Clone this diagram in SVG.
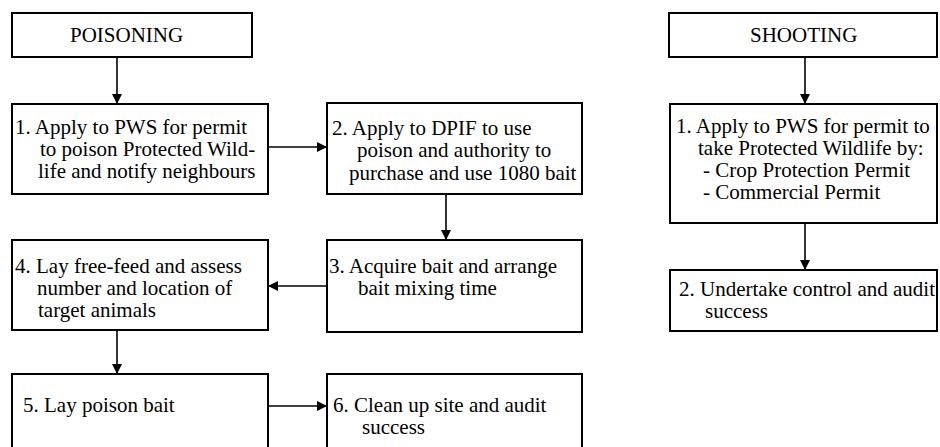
<svg xmlns="http://www.w3.org/2000/svg" width="940" height="447" viewBox="0 0 940 447">
<style>
.box{fill:#fff;stroke:#000;stroke-width:2}
.t{font-family:Liberation Serif, Tinos, Times New Roman, DejaVu Serif, serif;font-size:21px;fill:#000}
.c{fill:none;stroke:#000;stroke-width:1.6;marker-end:url(#ah)}
</style>
<defs>
<marker id="ah" markerUnits="userSpaceOnUse" markerWidth="12" markerHeight="12" viewBox="0 0 12 12" refX="11" refY="6" orient="auto">
<path d="M1,1 L11,6 L1,11 Z" fill="#000"/>
</marker>
</defs>
<rect width="940" height="447" fill="#fff"/>
<g id="connectors">
<line class="c" x1="117" y1="57" x2="117" y2="104"/>
<line class="c" x1="268" y1="147" x2="327" y2="147"/>
<line class="c" x1="446" y1="194" x2="446" y2="240"/>
<line class="c" x1="327" y1="286" x2="268" y2="286"/>
<line class="c" x1="117" y1="330" x2="117" y2="374"/>
<line class="c" x1="268" y1="406" x2="327" y2="406"/>
<line class="c" x1="805" y1="57" x2="805" y2="104"/>
<line class="c" x1="805" y1="223" x2="805" y2="270"/>
</g>
<g id="poisoning">
<rect class="box" x="12" y="13" width="240" height="44"/>
<text class="t" x="70" y="42">POISONING</text>
</g>
<g id="p1">
<rect class="box" x="12" y="104" width="256" height="90"/>
<text class="t" x="15" y="134">1. Apply to PWS for permit</text>
<text class="t" x="40" y="156">to poison Protected Wild-</text>
<text class="t" x="38" y="178">life and notify neighbours</text>
</g>
<g id="p2">
<rect class="box" x="327" y="103" width="255" height="91"/>
<text class="t" x="332" y="135">2. Apply to DPIF to use</text>
<text class="t" x="357" y="157">poison and authority to</text>
<text class="t" x="349" y="180">purchase and use 1080 bait</text>
</g>
<g id="p3">
<rect class="box" x="327" y="240" width="255" height="92"/>
<text class="t" x="329" y="273">3. Acquire bait and arrange</text>
<text class="t" x="358" y="295">bait mixing time</text>
</g>
<g id="p4">
<rect class="box" x="12" y="240" width="256" height="90"/>
<text class="t" x="15" y="273">4. Lay free-feed and assess</text>
<text class="t" x="37" y="295">number and location of</text>
<text class="t" x="38" y="317">target animals</text>
</g>
<g id="p5">
<rect class="box" x="12" y="374" width="256" height="90"/>
<text class="t" x="23" y="412">5. Lay poison bait</text>
</g>
<g id="p6">
<rect class="box" x="327" y="374" width="255" height="90"/>
<text class="t" x="333" y="412">6. Clean up site and audit</text>
<text class="t" x="362" y="434">success</text>
</g>
<g id="shooting">
<rect class="box" x="669" y="13" width="268" height="44"/>
<text class="t" x="750" y="42">SHOOTING</text>
</g>
<g id="s1">
<rect class="box" x="670" y="104" width="267" height="119"/>
<text class="t" x="676" y="133">1. Apply to PWS for permit to</text>
<text class="t" x="698" y="155">take Protected Wildlife by:</text>
<text class="t" x="703" y="177">- Crop Protection Permit</text>
<text class="t" x="703" y="199">- Commercial Permit</text>
</g>
<g id="s2">
<rect class="box" x="670" y="270" width="267" height="61"/>
<text class="t" x="679" y="296">2. Undertake control and audit</text>
<text class="t" x="705" y="318">success</text>
</g>
</svg>
